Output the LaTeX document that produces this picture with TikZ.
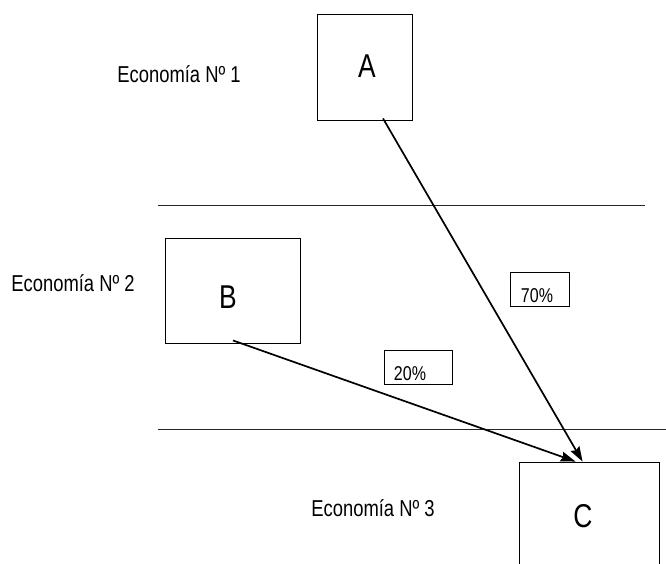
\documentclass[tikz,border=0pt]{standalone}
\usepackage{fontspec}
\setmainfont[FakeStretch=0.8]{Liberation Sans}
\usetikzlibrary{arrows.meta,calc}
\tikzset{
  ecobox/.style={draw, line width=0.9pt, inner sep=0pt},
  boxletter/.style={inner sep=0pt, font=\fontsize{33}{36}\selectfont},
  pctbox/.style={draw, line width=0.9pt, inner sep=0pt},
  pcttext/.style={inner sep=0pt, font=\fontsize{20}{23}\selectfont},
  ecolabel/.style={inner sep=0pt, font=\fontsize{23}{26}\selectfont},
  sepline/.style={line width=1pt, black!85},
  flow/.style={line width=1.7pt, -{Stealth[length=15pt,width=10pt,inset=2pt]}}
}
\begin{document}
\begin{tikzpicture}[x=1pt,y=-1pt]
\useasboundingbox (0,0) rectangle (666,564);
\clip (0,0) rectangle (666,564);
\fill[white] (0,0) rectangle (666,564);
% separators
\coordinate (l1a) at (158,205); \coordinate (l1b) at (645,205);
\coordinate (l2a) at (158,429); \coordinate (l2b) at (666,429);
\draw[sepline] (l1a) -- (l1b);
\draw[sepline] (l2a) -- (l2b);
% boxes
\node[ecobox, minimum width=95pt, minimum height=106pt] (A) at (364.5,67) {};
\node[boxletter] (At) at (367,66) {A};
\node[ecobox, minimum width=135pt, minimum height=105pt] (B) at (232.5,290.5) {};
\node[boxletter] (Bt) at (228,297) {B};
\node[ecobox, minimum width=140pt, minimum height=140pt] (C) at (589,532) {};
\node[boxletter] (Ct) at (583,516) {C};
% economy labels
\node[ecolabel] (e1) at (179,74) {Economía Nº 1};
\node[ecolabel] (e2) at (73,283) {Economía Nº 2};
\node[ecolabel] (e3) at (373,508) {Economía Nº 3};
% percentage boxes
\node[pctbox, minimum width=59pt, minimum height=34pt] (p70) at (539.5,289) {};
\node[pcttext] (t70) at (537,296) {70\%};
\node[pctbox, minimum width=68pt, minimum height=34pt] (p20) at (418,367) {};
\node[pcttext] (t20) at (410,374) {20\%};
% flows
\draw[flow] ($(A.south)+(18.5,-2)$) -- ($(C.north west)+(64,0)$);
\draw[flow] ($(B.south)+(0.5,-3)$) -- ($(C.north west)+(57,0)$);
\end{tikzpicture}
\end{document}
